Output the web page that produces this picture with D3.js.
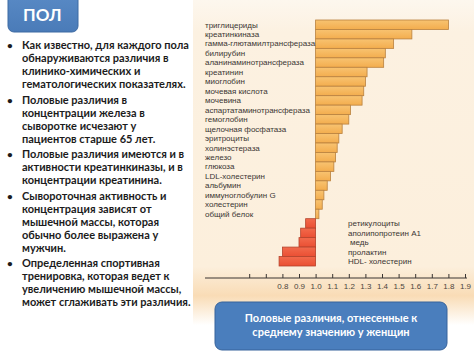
<!DOCTYPE html>
<html><head><meta charset="utf-8">
<script src="https://cdn.jsdelivr.net/npm/d3@7"></script>
<style>
html,body{margin:0;padding:0;background:#fff;}
svg{display:block;}
</style>
</head><body>
<svg id="c" width="474" height="355"></svg>
<script>
// ---- data ----
const upCategories = ["триглицериды","креатинкиназа","гамма-глютамилтрансфераза","билирубин","аланинаминотрансфераза","креатинин","миоглобин","мочевая кислота","мочевина","аспартатаминотрансфераза","гемоглобин","щелочная фосфатаза","эритроциты","холинэстераза","железо","глюкоза","LDL-холестерин","альбумин","иммуноглобулин G","холестерин","общий белок"];
const upValues = [1.80,1.58,1.47,1.42,1.41,1.31,1.30,1.29,1.28,1.21,1.20,1.16,1.14,1.13,1.12,1.11,1.09,1.07,1.05,1.04,1.02];
const downCategories = ["ретикулоциты","аполипопротеин A1","медь","пролактин","HDL- холестерин"];
const downValues = [0.94,0.91,0.90,0.80,0.78];
const tickValues = [0.6,0.7,0.8,0.9,1.0,1.1,1.2,1.3,1.4,1.5,1.6,1.7,1.8,1.9];
const tickLabels = ["","","0.8","0.9","1.0","1.1","1.2","1.3","1.4","1.5","1.6","1.7","1.8","1.9"];
const title = "ПОЛ";
const bullets = [
 ["Как известно, для каждого пола","обнаруживаются различия в","клинико-химических и","гематологических показателях."],
 ["Половые различия в","концентрации железа в","сыворотке исчезают у","пациентов старше 65 лет."],
 ["Половые различия имеются и в","активности креатинкиназы, и в","концентрации креатинина."],
 ["Сывороточная активность и","концентрация зависят от","мышечной массы, которая","обычно более выражена у","мужчин."],
 ["Определенная спортивная","тренировка, которая ведет к","увеличению мышечной массы,","может сглаживать эти различия."]
];
const noteLines = ["Половые различия, отнесенные к","среднему значению у женщин"];

const svg = d3.select("#c");
const defs = svg.append("defs");

// background panel
const pg = defs.append("linearGradient").attr("id","panel").attr("x1",0).attr("y1",0).attr("x2",0).attr("y2",1);
pg.append("stop").attr("offset","0%").attr("stop-color","#fdf7ee");
pg.append("stop").attr("offset","10%").attr("stop-color","#fcf1e1");
pg.append("stop").attr("offset","82%").attr("stop-color","#fcefdc");
pg.append("stop").attr("offset","91%").attr("stop-color","#f9dcb6");
pg.append("stop").attr("offset","100%").attr("stop-color","#ffffff");
svg.append("rect").attr("x",193).attr("y",0).attr("width",281).attr("height",325).attr("fill","url(#panel)");

const og = defs.append("linearGradient").attr("id","orange").attr("x1",0).attr("y1",0).attr("x2",0).attr("y2",1);
og.append("stop").attr("offset","0%").attr("stop-color","#f8c371");
og.append("stop").attr("offset","100%").attr("stop-color","#f3ad4e");
const rg = defs.append("linearGradient").attr("id","red").attr("x1",0).attr("y1",0).attr("x2",0).attr("y2",1);
rg.append("stop").attr("offset","0%").attr("stop-color","#f26a4c");
rg.append("stop").attr("offset","100%").attr("stop-color","#ea4f33");

// scales
const x = d3.scaleLinear().domain([0.6,1.9]).range([249.2,465]);
const y = d3.scaleBand().domain(upCategories.concat(downCategories)).range([20,266]).padding(0);

const chartFont = "'Liberation Sans', Arial, sans-serif";

// orange bars
svg.append("g").selectAll("rect").data(upCategories).join("rect")
  .attr("x", x(1))
  .attr("y", d => y(d))
  .attr("width", (d,i) => x(upValues[i]) - x(1))
  .attr("height", y.bandwidth())
  .attr("fill","url(#orange)").attr("stroke","#b9803e").attr("stroke-width",0.8);

// red bars
svg.append("g").selectAll("rect").data(downCategories).join("rect")
  .attr("x", (d,i) => x(downValues[i]))
  .attr("y", d => y(d))
  .attr("width", (d,i) => x(1) - x(downValues[i]))
  .attr("height", y.bandwidth())
  .attr("fill","url(#red)").attr("stroke","#b4432c").attr("stroke-width",0.8);

// labels
svg.append("g").selectAll("text").data(upCategories).join("text")
  .attr("x",205).attr("y", d => y(d) + y.bandwidth()/2)
  .attr("dy","0.35em")
  .attr("font-family",chartFont).attr("font-size",8).attr("fill","#3b3633")
  .text(d => d);
svg.append("g").selectAll("text").data(downCategories).join("text")
  .attr("x",(d,i)=> i===2 ? 350 : 348).attr("y", d => y(d) + y.bandwidth()/2)
  .attr("dy","0.35em")
  .attr("font-family",chartFont).attr("font-size",8).attr("fill","#3b3633")
  .text(d => d);

// axis
const axisY = 278;
svg.append("line").attr("x1",205).attr("x2",467).attr("y1",axisY).attr("y2",axisY)
  .attr("stroke","#3a3532").attr("stroke-width",1.1);
const ax = svg.append("g").attr("transform",`translate(0,${axisY})`)
  .call(d3.axisBottom(x).tickValues(tickValues).tickSize(-4).tickPadding(5)
    .tickFormat((d,i) => tickLabels[i]));
ax.select(".domain").remove();
ax.selectAll(".tick line").attr("stroke","#3a3532").attr("stroke-width",1);
ax.selectAll(".tick text").attr("font-family",chartFont).attr("font-size",8).attr("fill","#4a4440");

// title box
const tg = defs.append("linearGradient").attr("id","blue").attr("x1",0).attr("y1",0).attr("x2",0).attr("y2",1);
tg.append("stop").attr("offset","0%").attr("stop-color","#5a8bc6");
tg.append("stop").attr("offset","100%").attr("stop-color","#4a7bb8");
svg.append("rect").attr("x",8).attr("y",-8).attr("width",70).attr("height",40).attr("rx",6)
  .attr("fill","url(#blue)").attr("stroke","#3d6aa3").attr("stroke-width",1);
svg.append("text").attr("x",23).attr("y",21).attr("font-family","Lato, 'Open Sans', sans-serif")
  .attr("font-weight","bold").attr("font-size",17).attr("fill","#fff").text(title);

// bullets
const textFont = "Lato, 'Open Sans', sans-serif";
const lineH = 13;
let yy = 49;
const bg = svg.append("g").attr("font-family",textFont).attr("font-weight","bold").attr("font-size",11).attr("fill","#1c1c1c");
bullets.forEach(par => {
  bg.append("text").attr("x",7).attr("y",yy).attr("font-size",10).text("•");
  par.forEach((ln,j) => {
    bg.append("text").attr("x",22).attr("y",yy + j*lineH).text(ln);
  });
  yy += par.length*lineH + 2.5;
});

// note box
svg.append("rect").attr("x",215).attr("y",302).attr("width",232).attr("height",48).attr("rx",7)
  .attr("fill","#4a7ebd").attr("stroke","#37639b").attr("stroke-width",1);
svg.append("g").selectAll("text").data(noteLines).join("text")
  .attr("x",331).attr("y",(d,i)=>322 + i*14).attr("text-anchor","middle")
  .attr("font-family",textFont).attr("font-weight","bold").attr("font-size",11).attr("fill","#fff")
  .text(d=>d);
</script>
</body></html>
